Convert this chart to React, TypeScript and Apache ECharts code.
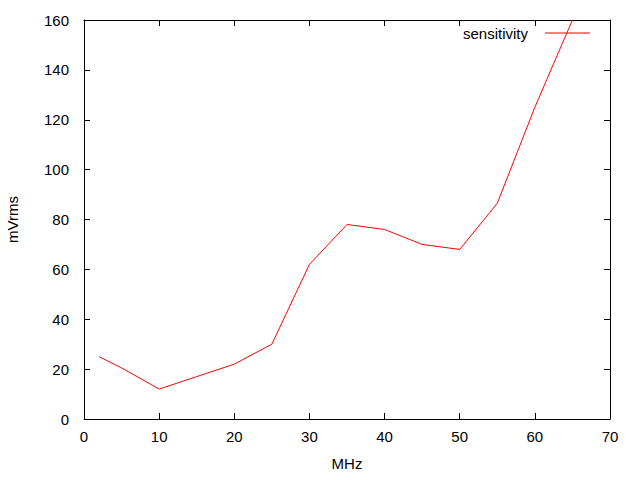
import React, { useEffect, useRef } from "react";
import * as echarts from "echarts";

const freqMHz = [2, 5, 10, 15, 20, 25, 30, 35, 40, 45, 50, 55, 60, 65];
const sensitivity = [25, 20.5, 12, 17, 22, 30, 62, 78, 76, 70, 68, 86.5, 125, 160];
const seriesName = "sensitivity";
const xTitle = "MHz";
const yTitle = "mVrms";

const FONT = "Liberation Sans, Arial, sans-serif";

export default function App() {
  const ref = useRef<HTMLDivElement>(null);
  useEffect(() => {
    document.body.style.margin = "0";
    const chart = echarts.init(ref.current!, null, { renderer: "svg" });
    const tickCommon = { show: true, inside: true, length: 6, lineStyle: { color: "#000", width: 1 } };
    const lineCommon = { show: true, onZero: false, lineStyle: { color: "#000", width: 1 } };
    chart.setOption({
      animation: false,
      backgroundColor: "#fff",
      textStyle: { fontFamily: FONT },
      grid: { left: 84, right: 30, top: 20, bottom: 61, show: false, containLabel: false, outerBoundsMode: "none" },
      legend: {
        data: [seriesName],
        right: 50,
        top: 25.5,
        align: "right",
        icon: "rect",
        itemWidth: 45,
        itemHeight: 1,
        padding: 0,
        textStyle: { fontSize: 15, color: "#000", fontFamily: FONT, padding: [0, 12, 0, 0] },
      },
      xAxis: [
        {
          type: "value",
          min: 0,
          max: 70,
          interval: 10,
          name: xTitle,
          nameLocation: "middle",
          nameGap: 37,
          nameTextStyle: { fontSize: 15, color: "#000", fontFamily: FONT },
          axisLine: lineCommon,
          axisTick: tickCommon,
          axisLabel: { fontSize: 15, color: "#000", margin: 10, fontFamily: FONT },
          splitLine: { show: false },
        },
        {
          type: "value",
          position: "top",
          min: 0,
          max: 70,
          interval: 10,
          axisLine: lineCommon,
          axisTick: tickCommon,
          axisLabel: { show: false },
          splitLine: { show: false },
        },
      ],
      yAxis: [
        {
          type: "value",
          min: 0,
          max: 160,
          interval: 20,
          name: yTitle,
          nameLocation: "middle",
          nameGap: 64,
          nameTextStyle: { fontSize: 15, color: "#000", fontFamily: FONT },
          axisLine: lineCommon,
          axisTick: tickCommon,
          axisLabel: { fontSize: 15, color: "#000", margin: 15, fontFamily: FONT },
          splitLine: { show: false },
        },
        {
          type: "value",
          position: "right",
          min: 0,
          max: 160,
          interval: 20,
          axisLine: lineCommon,
          axisTick: tickCommon,
          axisLabel: { show: false },
          splitLine: { show: false },
        },
      ],
      series: [
        {
          name: seriesName,
          type: "line",
          xAxisIndex: 0,
          yAxisIndex: 0,
          data: freqMHz.map((x, i) => [x, sensitivity[i]]),
          showSymbol: false,
          symbol: "none",
          lineStyle: { color: "#ff0000", width: 1 },
          itemStyle: { color: "#ff0000" },
        },
      ],
    });
    return () => chart.dispose();
  }, []);
  return <div ref={ref} style={{ width: 640, height: 480 }} />;
}
